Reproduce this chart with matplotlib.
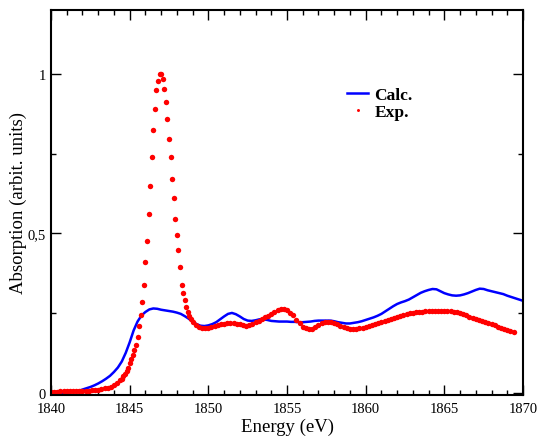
import numpy as np
import matplotlib
matplotlib.use('Agg')
import matplotlib.pyplot as plt
from matplotlib.ticker import MultipleLocator, FuncFormatter

plt.rcParams['font.family'] = ['Liberation Serif', 'DejaVu Serif']

## calculated spectrum (0.25 eV grid)
calc_e = np.arange(1840.0, 1870.001, 0.25)
calc_y = [0.000, 0.000, 0.001, 0.001, 0.002, 0.003, 0.005, 0.007, 0.011, 0.015,
          0.019, 0.024, 0.030, 0.037, 0.045, 0.054, 0.066, 0.080, 0.099, 0.126,
          0.159, 0.196, 0.224, 0.243, 0.254, 0.262, 0.265, 0.264, 0.261, 0.259,
          0.257, 0.255, 0.252, 0.248, 0.241, 0.233, 0.224, 0.216, 0.211, 0.210,
          0.212, 0.216, 0.222, 0.231, 0.240, 0.248, 0.251, 0.247, 0.240, 0.232,
          0.227, 0.226, 0.228, 0.231, 0.231, 0.229, 0.226, 0.225, 0.224, 0.224,
          0.224, 0.223, 0.223, 0.222, 0.222, 0.223, 0.224, 0.226, 0.227, 0.227,
          0.227, 0.227, 0.225, 0.222, 0.220, 0.218, 0.218, 0.220, 0.222, 0.225,
          0.229, 0.233, 0.237, 0.242, 0.248, 0.256, 0.264, 0.272, 0.279, 0.284,
          0.288, 0.293, 0.300, 0.307, 0.314, 0.319, 0.323, 0.326, 0.325, 0.319,
          0.313, 0.309, 0.306, 0.305, 0.306, 0.309, 0.313, 0.318, 0.323, 0.327,
          0.326, 0.322, 0.319, 0.316, 0.313, 0.310, 0.305, 0.301, 0.297, 0.293,
          0.289]

## experimental spectrum: pre-edge (0.2 eV), white line (0.1 eV), tail (0.2 eV)
exp_e_pre = np.round(np.arange(1840.0, 1844.21, 0.2), 2)
exp_y_pre = [0.004, 0.004, 0.004, 0.005, 0.005, 0.005, 0.005, 0.005, 0.006, 0.006,
             0.007, 0.007, 0.008, 0.009, 0.010, 0.011, 0.013, 0.015, 0.017, 0.020,
             0.024, 0.030]
exp_e_peak = np.round(np.arange(1844.4, 1849.01, 0.1), 2)
exp_y_peak = [0.040, 0.045, 0.052, 0.060, 0.070, 0.080, 0.095, 0.108, 0.120, 0.135,
              0.150, 0.175, 0.210, 0.245, 0.285, 0.340, 0.410, 0.475, 0.560, 0.650,
              0.740, 0.825, 0.890, 0.950, 0.978, 0.998, 1.000, 0.983, 0.952, 0.912,
              0.860, 0.795, 0.740, 0.672, 0.610, 0.545, 0.495, 0.448, 0.395, 0.340,
              0.315, 0.290, 0.270, 0.255, 0.242, 0.232, 0.224]
exp_e_tail = np.round(np.arange(1849.2, 1869.41, 0.2), 2)
exp_y_tail = [0.214, 0.207, 0.204, 0.203,
              0.205, 0.207, 0.210, 0.212, 0.215,
              0.217, 0.219, 0.219, 0.219, 0.217,
              0.215, 0.212, 0.211, 0.212, 0.217,
              0.222, 0.227, 0.232, 0.237, 0.242,
              0.247, 0.253, 0.259, 0.263, 0.263,
              0.259, 0.252, 0.243, 0.230, 0.218,
              0.208, 0.203, 0.200, 0.201, 0.206,
              0.212, 0.219, 0.223, 0.224, 0.223,
              0.220, 0.215, 0.210, 0.206, 0.203,
              0.201, 0.200, 0.201, 0.203, 0.205,
              0.207, 0.210, 0.213, 0.216, 0.219,
              0.222, 0.226, 0.229, 0.232, 0.235,
              0.239, 0.242, 0.245, 0.248, 0.250,
              0.251, 0.253, 0.254, 0.255, 0.256,
              0.257, 0.257, 0.258, 0.258, 0.258,
              0.258, 0.258, 0.257, 0.255, 0.253,
              0.250, 0.247, 0.243, 0.239, 0.236,
              0.232, 0.228, 0.225, 0.222, 0.218,
              0.215, 0.212, 0.208, 0.205, 0.202,
              0.198, 0.195, 0.192]

exp_e = np.concatenate([exp_e_pre, exp_e_peak, exp_e_tail])
exp_y = np.array(exp_y_pre + exp_y_peak + exp_y_tail)

fig = plt.figure(figsize=(5.41, 4.39), dpi=100)
ax = fig.add_axes([0.0943, 0.098, 0.8724, 0.877])

ax.plot(calc_e, calc_y, color='#0000ff', linewidth=1.8, label='Calc.')
ax.plot(exp_e, exp_y, linestyle='none', marker='o', markersize=3.9,
        markeredgewidth=0, color='#ff0000', label='Exp.')

ax.set_xlim(1840, 1870)
ax.set_ylim(-0.006, 1.2)
ax.xaxis.set_major_locator(MultipleLocator(5))
ax.xaxis.set_minor_locator(MultipleLocator(1))
ax.yaxis.set_major_locator(MultipleLocator(0.5))
ax.yaxis.set_minor_locator(MultipleLocator(0.25))
ax.yaxis.set_major_formatter(FuncFormatter(lambda v, p: ('%g' % v).replace('.', ',')))
ax.tick_params(which='both', direction='in', top=True, right=True, labelsize=10.5, width=1)
ax.tick_params(which='major', length=7)
ax.tick_params(which='minor', length=3.5)
ax.tick_params(axis='x', pad=5)
for sp in ax.spines.values():
    sp.set_linewidth(1.5)

ax.set_xlabel('Energy (eV)', fontsize=13.5, labelpad=2)
ax.set_ylabel('Absorption (arbit. units)', fontsize=13.5, labelpad=1)

leg = ax.legend(loc='upper left', bbox_to_anchor=(0.595, 0.842), frameon=False,
                numpoints=1, handlelength=1.2, handletextpad=0.35, labelspacing=0.1,
                markerscale=0.55, prop={'weight': 'bold', 'size': 12.5})

fig.savefig('out.png', dpi=100)
